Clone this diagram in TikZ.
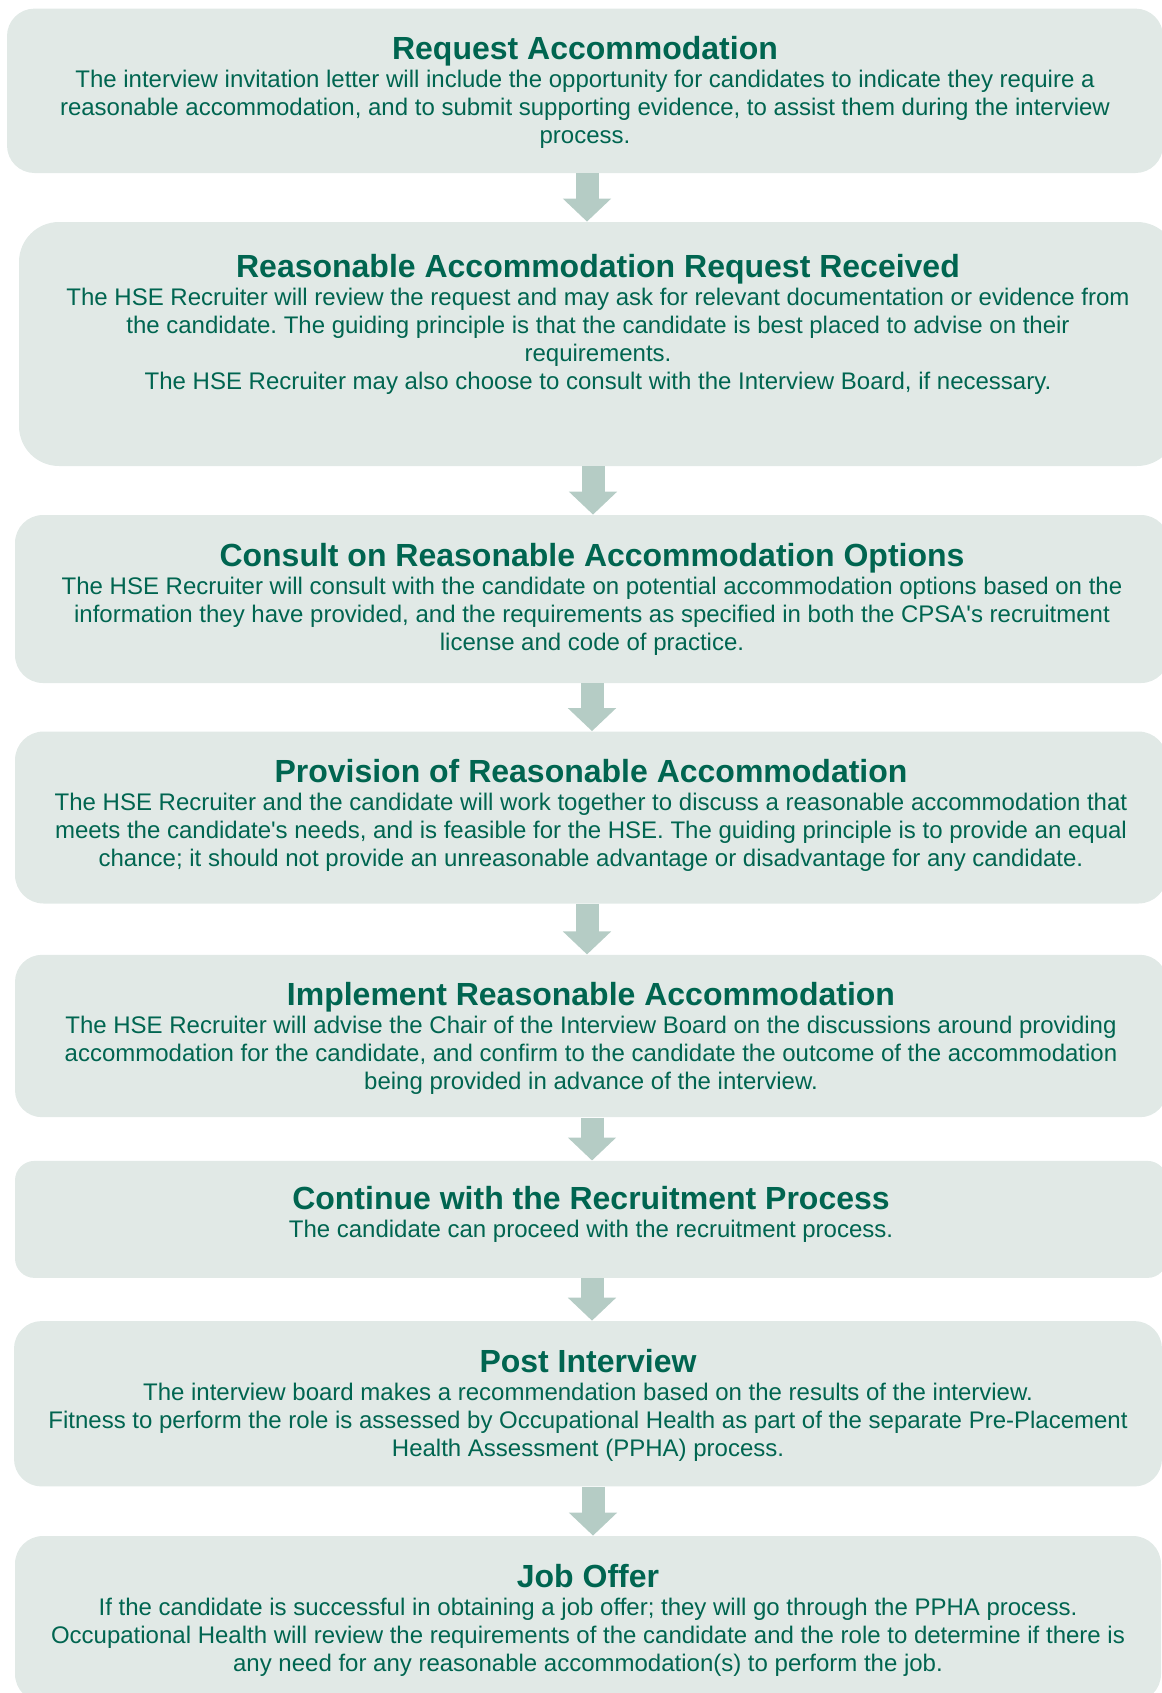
\documentclass[tikz,border=0pt]{standalone}
\usepackage{fontspec}
\setmainfont{Liberation Sans}[Ligatures=TeXOff]
\usepackage{xcolor}
\usetikzlibrary{arrows.meta, positioning}
\definecolor{hsegreen}{HTML}{006550}
\definecolor{boxfill}{HTML}{E1E9E6}
\definecolor{arrowfill}{HTML}{B5CCC5}
\newcommand{\steptitle}[1]{{\fontsize{16}{14}\selectfont\bfseries\rule{0pt}{12pt}#1}}
\frenchspacing

\begin{document}
\begin{tikzpicture}[x=0.5pt, y=-0.5pt,
  stepbox/.style={fill=boxfill, draw=none, inner sep=0pt},
  steptext/.style={align=center, inner sep=0pt, text=hsegreen, font=\fontsize{12}{14}\selectfont},
  flow/.style={draw=arrowfill, line width=11.5pt, -{Triangle[width=23.5pt,length=11.5pt]}}]
\useasboundingbox (0,0) rectangle (1162,1693);
\clip (0,0) rectangle (1162,1693);

% Step 1: Request
\node[stepbox, minimum width=578pt, minimum height=82.2pt, rounded corners=13.75pt] (b1) at (585,90.8) {};
\node[steptext, below=13.5pt of b1.north] (t1) {\steptitle{Request Accommodation}\\
The interview invitation letter will include the opportunity for candidates to indicate they require a\\
reasonable accommodation, and to submit supporting evidence, to assist them during the interview\\
process.};

% Step 2: Received
\node[stepbox, minimum width=579pt, minimum height=122pt, rounded corners=20pt] (b2) at (598,344) {};
\node[steptext, below=15.75pt of b2.north] (t2) {\steptitle{Reasonable Accommodation Request Received}\\
The HSE Recruiter will review the request and may ask for relevant documentation or evidence from\\
the candidate. The guiding principle is that the candidate is best placed to advise on their\\
requirements.\\
The HSE Recruiter may also choose to consult with the Interview Board, if necessary.};

% Step 3: Consult
\node[stepbox, minimum width=577pt, minimum height=84pt, rounded corners=14pt] (b3) at (592,599) {};
\node[steptext, below=13.5pt of b3.north] (t3) {\steptitle{Consult on Reasonable Accommodation Options}\\
The HSE Recruiter will consult with the candidate on potential accommodation options based on the\\
information they have provided, and the requirements as specified in both the CPSA's recruitment\\
license and code of practice.};

% Step 4: Provision
\node[stepbox, minimum width=576pt, minimum height=86pt, rounded corners=14.3pt] (b4) at (591,817.5) {};
\node[steptext, below=13.5pt of b4.north] (t4) {\steptitle{Provision of Reasonable Accommodation}\\
The HSE Recruiter and the candidate will work together to discuss a reasonable accommodation that\\
meets the candidate's needs, and is feasible for the HSE. The guiding principle is to provide an equal\\
chance; it should not provide an unreasonable advantage or disadvantage for any candidate.};

% Step 5: Implement
\node[stepbox, minimum width=576pt, minimum height=81.2pt, rounded corners=13.5pt] (b5) at (591,1036) {};
\node[steptext, below=13.5pt of b5.north] (t5) {\steptitle{Implement Reasonable Accommodation}\\
The HSE Recruiter will advise the Chair of the Interview Board on the discussions around providing\\
accommodation for the candidate, and confirm to the candidate the outcome of the accommodation\\
being provided in advance of the interview.};

% Step 6: Continue
\node[stepbox, minimum width=576pt, minimum height=58.5pt, rounded corners=9.75pt] (b6) at (591,1219.4) {};
\node[steptext, below=12.5pt of b6.north] (t6) {\steptitle{Continue with the Recruitment Process}\\
The candidate can proceed with the recruitment process.};

% Step 7: Post interview
\node[stepbox, minimum width=574pt, minimum height=82.7pt, rounded corners=13.8pt] (b7) at (588,1403.75) {};
\node[steptext, below=13.75pt of b7.north] (t7) {\steptitle{Post Interview}\\
The interview board makes a recommendation based on the results of the interview.\\
Fitness to perform the role is assessed by Occupational Health as part of the separate Pre-Placement\\
Health Assessment (PPHA) process.};

% Step 8: Job offer
\node[stepbox, minimum width=573pt, minimum height=83pt, rounded corners=14pt] (b8) at (588,1619) {};
\node[steptext, below=13.75pt of b8.north] (t8) {\steptitle{Job Offer}\\
If the candidate is successful in obtaining a job offer; they will go through the PPHA process.\\
Occupational Health will review the requirements of the candidate and the role to determine if there is\\
any need for any reasonable accommodation(s) to perform the job.};

% arrows between the steps
\foreach \i/\j/\ax in {1/2/587,2/3/593,3/4/592,4/5/587,5/6/592,6/7/592,7/8/593} {
  \draw[flow] (\ax,0 |- b\i.south) -- (\ax,0 |- b\j.north);
}
\end{tikzpicture}
\end{document}
